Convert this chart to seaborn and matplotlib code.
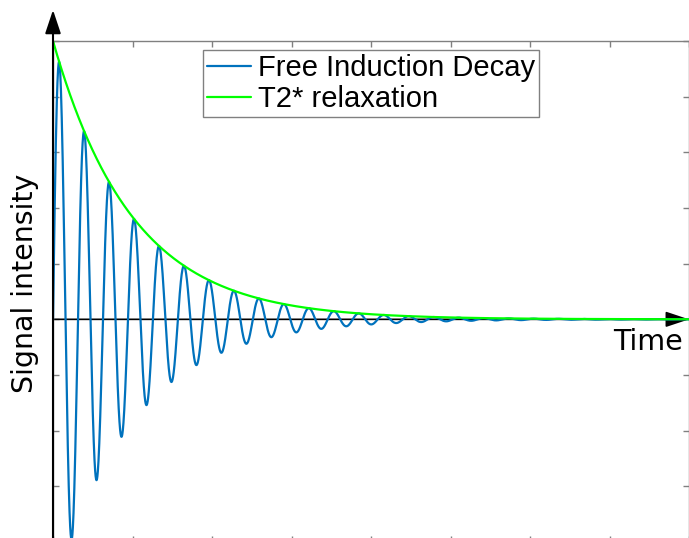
import numpy as np
import pandas as pd
import matplotlib
matplotlib.use("Agg")
import matplotlib.pyplot as plt
import seaborn as sns

# --- chart values ---
t_start = 0.0          # time axis start
t_end = 8.0            # time axis end
n_samples = 4000
t2_star = 1.0          # envelope decay constant (envelope falls to 1/e at t = 1)
omega = 20.0           # angular frequency of the FID (period ~0.314)
amplitude = 1.0
series_names = ["Free Induction Decay", "T2* relaxation"]
series_colors = ["#0072BD", "#00FF00"]
x_ticks = [0, 1, 2, 3, 4, 5, 6, 7, 8]
y_ticks = [-0.8, -0.6, -0.4, -0.2, 0.0, 0.2, 0.4, 0.6, 0.8, 1.0]

time = np.linspace(t_start, t_end, n_samples)
envelope = amplitude * np.exp(-time / t2_star)
fid = envelope * np.sin(omega * time)

df = pd.DataFrame({"time": time, "fid": fid, "env": envelope})

sns.set_theme(style="white")
plt.rcParams["font.family"] = ["DejaVu Sans"]
plt.rcParams["text.color"] = "black"

W, H = 689, 538
fig = plt.figure(figsize=(W / 100, H / 100), dpi=100)
ax_left, ax_right, ax_top, ax_bottom = 53, 689, 41, 542
ax = fig.add_axes([ax_left / W, (H - ax_bottom) / H,
                   (ax_right - ax_left) / W, (ax_bottom - ax_top) / H])

sns.lineplot(data=df, x="time", y="fid", ax=ax, color=series_colors[0],
             linewidth=1.6, label=series_names[0], zorder=3)
sns.lineplot(data=df, x="time", y="env", ax=ax, color=series_colors[1],
             linewidth=1.6, label=series_names[1], zorder=4)

ax.set_xlim(t_start, t_end)
ax.set_ylim(fid.min(), amplitude)
ax.set_xticks(x_ticks)
ax.set_yticks(y_ticks)
ax.set_xticklabels([])
ax.set_yticklabels([])
ax.set_xlabel("")
ax.set_ylabel("")
gray = "#808080"
for s in ax.spines.values():
    s.set_color(gray)
    s.set_linewidth(1.0)
ax.tick_params(axis="both", which="both", direction="in", length=4.5, width=1.0,
               color=gray, top=True, bottom=True, left=True, right=True)

# axis arrows
ax.annotate("", xy=(0, 1.062), xytext=(0, -0.02),
            xycoords=("data", "axes fraction"), textcoords=("data", "axes fraction"),
            arrowprops=dict(arrowstyle="-|>,head_length=1.2,head_width=0.4",
                            color="black", lw=1.5, shrinkA=0, shrinkB=0),
            annotation_clip=False, zorder=6)
ax.annotate("", xy=(1.0, 0), xytext=(0, 0),
            xycoords=("axes fraction", "data"), textcoords=("axes fraction", "data"),
            arrowprops=dict(arrowstyle="-|>,head_length=1.2,head_width=0.4",
                            color="black", lw=1.2, shrinkA=0, shrinkB=0),
            annotation_clip=False, zorder=2)

fig.text(648 / W, 1 - 342 / H, "Time", ha="center", va="center", fontsize=20.5,
         color="black")
fig.text(25 / W, 1 - 283 / H, "Signal intensity", ha="center", va="center",
         rotation=90, fontsize=20.5, color="black")

leg = ax.legend(loc="upper center", bbox_to_anchor=(0.5, 0.983),
                prop={"family": "Liberation Sans", "size": 21},
                frameon=True, fancybox=False, edgecolor=gray, framealpha=1,
                handlelength=1.5, handletextpad=0.25, borderpad=0.15,
                labelspacing=0.1, borderaxespad=0)
leg.get_frame().set_linewidth(1.0)
for txt in leg.get_texts():
    txt.set_color("black")
for line in leg.get_lines():
    line.set_linewidth(1.6)

fig.savefig("out.png", dpi=100)
